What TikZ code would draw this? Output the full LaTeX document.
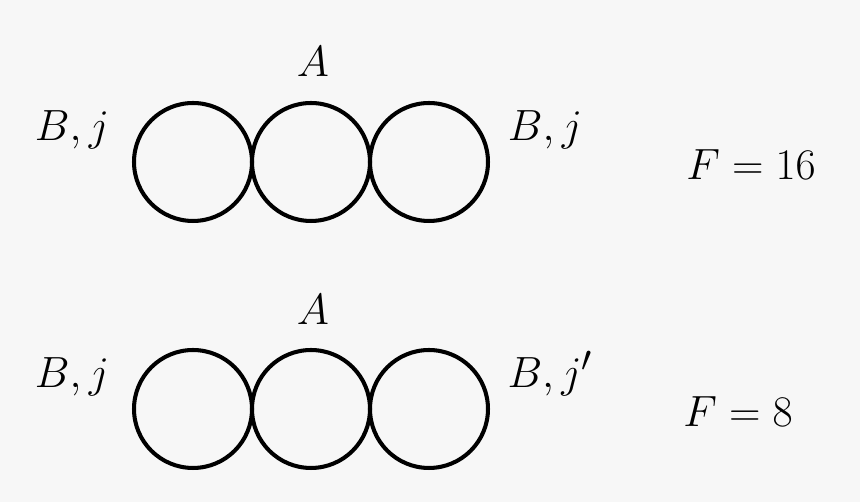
\documentclass[tikz,border=0pt]{standalone}
\begin{document}
\begin{tikzpicture}[x=0.02cm,y=-0.02cm,
  ring/.style={circle,draw,line width=2.3pt,minimum size=2.36cm,inner sep=0pt},
  lbl/.style={font=\fontsize{30}{36}\selectfont}]
\fill[fill={rgb,255:red,247;green,247;blue,247}] (0,0) rectangle (860,502);
\node[ring] (a1) at (193,162) {};
\node[ring] (a2) at (311,162) {};
\node[ring] (a3) at (429,162) {};
\node[lbl] (ta) at (313,62) {$A$};
\node[lbl] (tl) at (72,130) {$B,j$};
\node[lbl] (tr) at (545,130) {$B,j$};
\node[lbl] (tf) at (751,165) {$F=16$};
\node[ring] (b1) at (193,409) {};
\node[ring] (b2) at (311,409) {};
\node[ring] (b3) at (429,409) {};
\node[lbl] (ba) at (313,310) {$A$};
\node[lbl] (bl) at (72,377) {$B,j$};
\node[lbl] (br) at (550,374) {$B,j'$};
\node[lbl] (bf) at (738,412) {$F=8$};
\end{tikzpicture}
\end{document}
